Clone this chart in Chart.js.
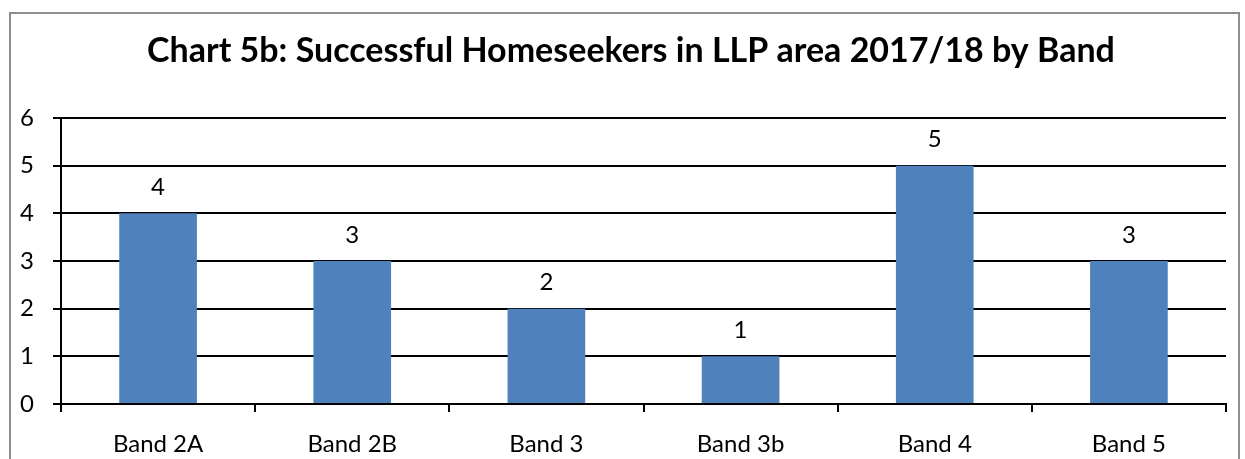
<!DOCTYPE html>
<html>
<head>
<meta charset="utf-8">
<script src="https://cdn.jsdelivr.net/npm/chart.js@4/dist/chart.umd.min.js"></script>
<style>
  html, body { margin: 0; padding: 0; background: #fff; overflow: hidden; }
  #wrap { position: relative; width: 1245px; height: 459px; }
  #frame { position: absolute; left: 9px; top: 12px; width: 1231px; height: 460px;
           border: 2px solid #8e8e8e; pointer-events: none; box-sizing: border-box; }
</style>
</head>
<body>
<div id="wrap">
  <canvas id="chart" width="1245" height="459"></canvas>
  <div id="frame"></div>
</div>
<script>
// dati del grafico
const bands = ['Band 2A', 'Band 2B', 'Band 3', 'Band 3b', 'Band 4', 'Band 5'];
const homeseekers = [4, 3, 2, 1, 5, 3];
const chartTitle = 'Chart 5b: Successful Homeseekers in LLP area 2017/18 by Band';

const fontFamily = 'Lato, "Open Sans", sans-serif';

// titolo centrato sulla cornice, non sull'area del grafico
const titlePlugin = {
    id: 'titlePlugin',
    afterDraw(chart) {
        const ctx = chart.ctx;
        ctx.save();
        ctx.font = 'bold 34px ' + fontFamily;
        ctx.fillStyle = '#000';
        ctx.textAlign = 'center';
        ctx.textBaseline = 'alphabetic';
        ctx.fillText(chartTitle, 631, 62);
        ctx.restore();
    }
};

// etichette sopra le barre
const barLabels = {
    id: 'barLabels',
    afterDatasetsDraw(chart) {
        const ctx = chart.ctx;
        const meta = chart.getDatasetMeta(0);
        ctx.save();
        ctx.font = '24px ' + fontFamily;
        ctx.fillStyle = '#000';
        ctx.textAlign = 'center';
        ctx.textBaseline = 'middle';
        meta.data.forEach((bar, i) => {
            ctx.fillText(String(homeseekers[i]), bar.x, bar.y - 26);
        });
        ctx.restore();
    }
};

new Chart(document.getElementById('chart'), {
    type: 'bar',
    data: {
        labels: bands,
        datasets: [{
            data: homeseekers,
            backgroundColor: '#4f81bd',
            borderWidth: 0,
            barPercentage: 0.4,
            categoryPercentage: 1
        }]
    },
    options: {
        responsive: false,
        animation: false,
        layout: { padding: { left: 0, right: 19, top: 118, bottom: 0 } },
        plugins: {
            legend: { display: false },
            tooltip: { enabled: false },
            title: { display: false }
        },
        scales: {
            x: {
                afterFit: scale => { scale.height = 55; },
                grid: {
                    offset: true,
                    drawOnChartArea: false,
                    color: '#000',
                    lineWidth: 2,
                    tickLength: 8
                },
                border: { color: '#000', width: 2 },
                ticks: {
                    color: '#000',
                    padding: 18,
                    font: { family: fontFamily, size: 24 }
                }
            },
            y: {
                min: 0,
                max: 6,
                afterFit: scale => { scale.width = 61; },
                grid: {
                    color: '#000',
                    lineWidth: 2,
                    tickLength: 8
                },
                border: { color: '#000', width: 2 },
                ticks: {
                    stepSize: 1,
                    color: '#000',
                    padding: 19,
                    font: { family: fontFamily, size: 24 }
                }
            }
        }
    },
    plugins: [barLabels, titlePlugin]
});
</script>
</body>
</html>
